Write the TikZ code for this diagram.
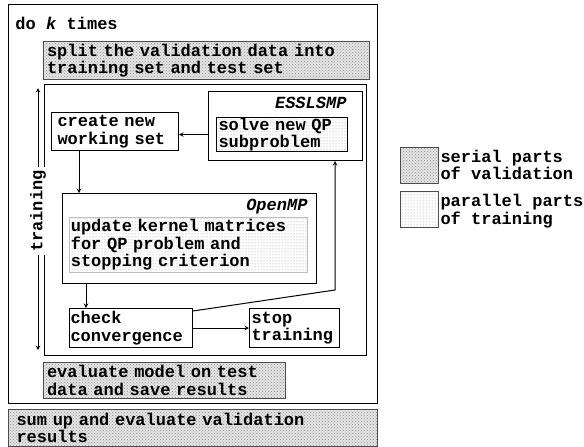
\documentclass[tikz,border=0pt]{standalone}
\usepackage{fontspec}
\setmonofont{Liberation Mono}
\usetikzlibrary{arrows,patterns}

\tikzset{
  box/.style={draw, anchor=north west, inner xsep=3.5pt, inner ysep=0pt, align=left},
  serial/.style={box, draw=black!70, preaction={fill=gray!20}, pattern=crosshatch dots, pattern color=gray!90},
  parallel/.style={box, pattern=dots, pattern color=gray!85},
  tag/.style={inner sep=0pt},
}

\begin{document}
\begin{tikzpicture}[x=1pt, y=-1pt, >=stealth, line width=1pt,
  font=\ttfamily\bfseries\fontsize{17}{17.5}\selectfont]
\useasboundingbox (0,0) rectangle (584,447);

% validation loop
\node[box, minimum width=369, minimum height=399] (loop) at (8,4) {};
\node[tag, anchor=west] (looptag) at (15,23) {do \textit{k} times};
\node[serial, minimum height=38, text width=319] (split) at (43,41)
  {split the validation data into\\training set and test set};

% training
\node[box, minimum width=322, minimum height=271] (train) at (44,84) {};
\coordinate (ttop) at (38,88);
\coordinate (tbot) at (38,350);
\draw[<->] (ttop) -- node[pos=.47, fill=white, rotate=90, inner sep=3pt] (ttag) {training} (tbot);

\node[box, minimum height=38, inner xsep=6pt, text width=115] (create) at (51,112)
  {create new\\working set};

\node[box, minimum width=154, minimum height=69] (essl) at (208,91) {};
\node[tag, anchor=east] (essltag) at (347,103) {\textit{ESSLSMP}};
\node[parallel, minimum height=34, inner xsep=2pt, text width=127] (solve) at (216,117)
  {solve new QP\\subproblem};

\node[box, minimum width=254, minimum height=90] (omp) at (62,193) {};
\node[tag, anchor=east] (omptag) at (308,207) {\textit{OpenMP}};
\node[parallel, draw=gray!50, line width=.6pt, minimum height=55, inner xsep=1.5pt, text width=235] (update) at (69,217)
  {update kernel matrices\\for QP problem and\\stopping criterion};

\node[box, minimum height=39, inner xsep=1pt, text width=121] (check) at (69,308)
  {check\\convergence};
\node[box, minimum height=39, inner xsep=2pt, text width=86] (stop) at (249,308)
  {stop\\training};
\coordinate (bend) at (335,290);

\draw[->] (essl.west |- solve) -- (create.east |- solve);
\draw[->] ([xshift=28pt]create.south west) -- ([xshift=28pt]create.south west |- omp.north);
\draw[->] ([xshift=17pt]check.north west |- omp.south) -- ([xshift=17pt]check.north west);
\draw[->] (check) -- (stop);
\draw[->] ([yshift=-3pt]check.north east) -- (bend) -- (bend |- essl.south);

\node[serial, minimum height=36, text width=235] (eval) at (43,362)
  {evaluate model on test\\data and save results};

\node[serial, minimum height=37, inner xsep=8pt, text width=353] (sumup) at (8,409)
  {sum up and evaluate validation\\results};

% legend
\node[serial, minimum width=38, minimum height=36] (lserial) at (400,147) {};
\node[tag, anchor=west, align=left] (lserialtag) at (440,165) {serial parts\\of validation};
\node[parallel, draw=black!70, minimum width=38, minimum height=36] (lpar) at (400,191) {};
\node[tag, anchor=west, align=left] (lpartag) at (440,211) {parallel parts\\of training};
\end{tikzpicture}
\end{document}
